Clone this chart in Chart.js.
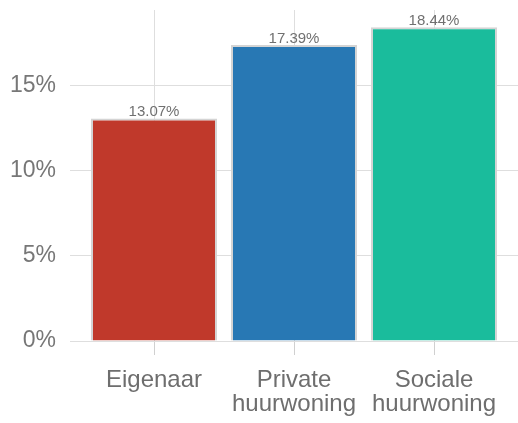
<!DOCTYPE html>
<html>
<head>
<meta charset="utf-8">
<script src="https://cdn.jsdelivr.net/npm/chart.js@4/dist/chart.umd.min.js"></script>
<style>
  body { margin: 0; background: #fff; }
  canvas { display: block; }
</style>
</head>
<body>
<canvas id="chart" width="518" height="423"></canvas>
<script>
const categories = [["Eigenaar"], ["Private", "huurwoning"], ["Sociale", "huurwoning"]];
const positions = [1, 2, 3];
const values = [13.07, 17.39, 18.44];
const barColors = ["#c0392b", "#2878b4", "#1abc9c"];
const yTicks = [0, 5, 10, 15];

// value labels above each bar
const barLabels = {
  id: "barLabels",
  afterDatasetsDraw(chart) {
    const ctx = chart.ctx;
    const meta = chart.getDatasetMeta(0);
    ctx.save();
    ctx.font = "15px 'Liberation Sans', Arial, sans-serif";
    ctx.fillStyle = "#707070";
    ctx.textAlign = "center";
    ctx.textBaseline = "bottom";
    meta.data.forEach((bar, i) => {
      ctx.fillText(values[i].toFixed(2) + "%", bar.x, bar.y + 1);
    });
    ctx.restore();
  }
};

new Chart(document.getElementById("chart"), {
  type: "bar",
  data: {
    datasets: [
      {
        data: positions.map((p, i) => ({ x: p, y: values[i] })),
        backgroundColor: barColors,
        borderColor: "#d4d4d4",
        borderWidth: 2,
        barPercentage: 0.9,
        categoryPercentage: 1,
      },
    ],
  },
  options: {
    responsive: false,
    animation: false,
    layout: { padding: { top: 10, right: 0, left: 0, bottom: 0 } },
    plugins: { legend: { display: false }, tooltip: { enabled: false } },
    scales: {
      x: {
        type: "linear",
        min: 0.4,
        max: 3.6,
        offset: false,
        afterBuildTicks: (axis) => {
          axis.ticks = positions.map((p) => ({ value: p }));
        },
        afterFit: (axis) => {
          axis.height = 82;
          axis.paddingLeft = 0;
          axis.paddingRight = 0;
        },
        border: { display: false },
        grid: { offset: false, color: "#dedede", tickLength: 14, tickColor: "#d0d0d0" },
        ticks: {
          padding: 13,
          color: "#6e6e6e",
          font: { family: "'Liberation Sans', Arial, sans-serif", size: 24, lineHeight: 1.0 },
          callback: (v) => categories[positions.indexOf(v)],
          maxRotation: 0,
          autoSkip: false,
        },
      },
      y: {
        min: 0,
        max: 19.45,
        afterBuildTicks: (axis) => {
          axis.ticks = yTicks.map((v) => ({ value: v }));
        },
        afterFit: (axis) => {
          axis.width = 70;
          axis.paddingTop = 0;
          axis.paddingBottom = 0;
        },
        border: { display: false },
        grid: { color: "#dedede", drawTicks: false },
        ticks: {
          padding: 14,
          color: "#777777",
          font: { family: "'Liberation Sans', Arial, sans-serif", size: 23 },
          callback: (v) => v + "%",
        },
      },
    },
  },
  plugins: [barLabels],
});
</script>
</body>
</html>
